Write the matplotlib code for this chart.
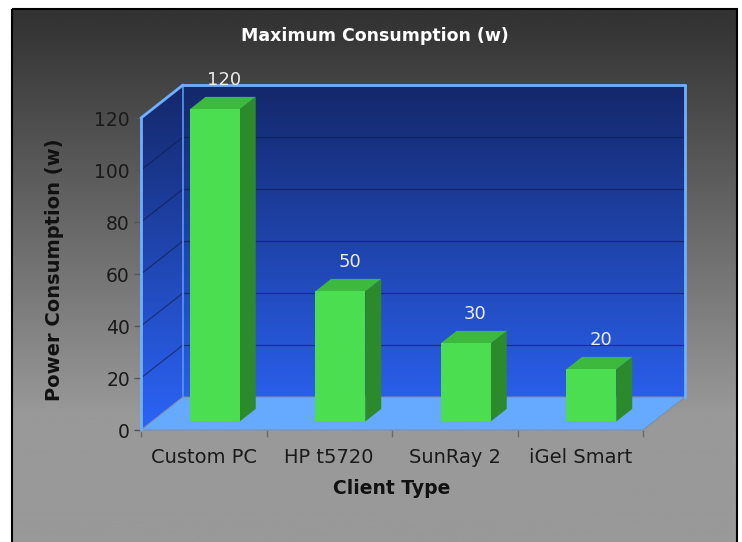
import numpy as np
import matplotlib
matplotlib.use('Agg')
import matplotlib.pyplot as plt
from matplotlib.patches import Polygon, Rectangle

# data
clients = ['Custom PC', 'HP t5720', 'SunRay 2', 'iGel Smart']
max_watts = [120, 50, 30, 20]
y_ticks = [0, 20, 40, 60, 80, 100, 120]

W, H = 742, 542
fig = plt.figure(figsize=(W / 100, H / 100), dpi=100)
fig.patch.set_facecolor('white')

# gray gradient panel behind everything
bg = fig.add_axes([0, 0, 1, 1], zorder=-10)
bg.set_xlim(0, W)
bg.set_ylim(H, 0)
bg.axis('off')
rows = np.arange(H)
g = np.clip(51 + 102 * (rows - 10) / 400, 51, 153) / 255
grad = np.dstack([g, g, g]).reshape(H, 1, 3)
bg.imshow(grad, extent=(12, 737, H + 3, 9), aspect='auto', zorder=0)
bg.add_patch(Rectangle((12, 9), 725, H, fill=False, ec='black', lw=1.5, zorder=1))

# plot axes = front plane of the 3d box
ax = fig.add_axes([141 / W, 1 - 430 / H, 502 / W, 312 / H])
ax.patch.set_alpha(0)
for s in ax.spines.values():
    s.set_visible(False)

# depth vector of the box in data units
wx = 42 / (502 / 4)
wy = 33 / (312 / 120)


def pt(x, y, d):
    return (x + d * wx, y + d * wy)


def poly(pts, **kw):
    p = Polygon(pts, closed=True, clip_on=False, **kw)
    ax.add_patch(p)
    return p


x_lo, x_hi = -0.5, len(clients) - 0.5
y_top = y_ticks[-1]

back = poly([pt(x_lo, 0, 1), pt(x_hi, 0, 1), pt(x_hi, y_top, 1), pt(x_lo, y_top, 1)],
            fc='none', ec='none', zorder=1)
side = poly([pt(x_lo, 0, 0), pt(x_lo, 0, 1), pt(x_lo, y_top, 1), pt(x_lo, y_top, 0)],
            fc='none', ec='none', zorder=1)

# blue wall gradient (bright at floor, navy at top)
t = np.linspace(0, 1, 256).reshape(-1, 1)
c_top = np.array([0x14, 0x28, 0x6a]) / 255
c_bot = np.array([0x2c, 0x64, 0xf8]) / 255
wall = (c_bot * (1 - t) + c_top * t).reshape(256, 1, 3)
for clip in (back, side):
    im = ax.imshow(wall, extent=(x_lo, x_hi + wx, 0, y_top + wy), origin='lower',
                   aspect='auto', zorder=1)
    im.set_clip_box(fig.bbox)
    im.set_clip_path(clip)

# grid lines on back and side walls
for v in y_ticks[1:-1]:
    a, b = pt(x_lo, v, 1), pt(x_hi, v, 1)
    ax.plot([a[0], b[0]], [a[1], b[1]], color='#0d1c50', lw=0.9, alpha=0.6, zorder=2, clip_on=False)
    a, b = pt(x_lo, v, 0), pt(x_lo, v, 1)
    ax.plot([a[0], b[0]], [a[1], b[1]], color='#0d1c50', lw=0.9, alpha=0.6, zorder=2, clip_on=False)

# floor
poly([pt(x_lo, 0, 0), pt(x_hi, 0, 0), pt(x_hi, 0, 1), pt(x_lo, 0, 1)],
     fc='#66aaff', ec='#7d8fa8', lw=0.8, zorder=3)

# light blue box edges
edge = dict(color='#6fb0ff', lw=2, zorder=4, clip_on=False, solid_capstyle='round')
for p0, p1 in [((x_lo, 0, 0), (x_lo, y_top, 0)),
               ((x_lo, y_top, 0), (x_lo, y_top, 1)),
               ((x_lo, y_top, 1), (x_hi, y_top, 1)),
               ((x_hi, y_top, 1), (x_hi, 0, 1))]:
    a, b = pt(*p0), pt(*p1)
    ax.plot([a[0], b[0]], [a[1], b[1]], **edge)
a, b = pt(x_lo, 0, 1), pt(x_lo, y_top, 1)
ax.plot([a[0], b[0]], [a[1], b[1]], color='#5a96f0', lw=1.2, zorder=2, clip_on=False)

# 3d bars
hw = 0.2
d0, bd = 0.26, 0.38
for i, v in enumerate(max_watts):
    x0, x1 = i - hw, i + hw
    poly([pt(x1, 0, d0), pt(x1, 0, d0 + bd), pt(x1, v, d0 + bd), pt(x1, v, d0)],
         fc='#2c8a2c', ec='none', zorder=5)
    poly([pt(x0, v, d0), pt(x1, v, d0), pt(x1, v, d0 + bd), pt(x0, v, d0 + bd)],
         fc='#3dba3d', ec='none', zorder=5)
    poly([pt(x0, 0, d0), pt(x1, 0, d0), pt(x1, v, d0), pt(x0, v, d0)],
         fc='#4ade50', ec='none', zorder=6)
    ax.annotate(str(v), pt(i, v, d0 + bd / 2), xytext=(1, 13), textcoords='offset points',
                ha='center', va='baseline', fontsize=13, color='#ececec', zorder=7,
                annotation_clip=False)

ax.set_xlim(x_lo, x_hi)
ax.set_ylim(0, y_top)
ax.set_xticks(range(len(clients)))
ax.set_xticklabels(clients)
ax.set_xticks(np.arange(x_lo, x_hi + 0.01, 1), minor=True)
ax.tick_params(axis='x', which='major', length=0, pad=13, labelsize=14, labelcolor='#1a1a1a')
ax.tick_params(axis='x', which='minor', length=5, color='#6a6a6a', width=1)
ax.set_yticks(y_ticks)
ax.tick_params(axis='y', length=5, color='#555555', width=1, pad=3, labelsize=13.5,
               labelcolor='#1a1a1a')

fig.text(375 / W, 1 - 36 / H, 'Maximum Consumption (w)', ha='center', va='center',
         fontsize=12.5, fontweight='bold', color='white')
fig.text(392 / W, 1 - 489 / H, 'Client Type', ha='center', va='center',
         fontsize=13.5, fontweight='bold', color='#111111')
fig.text(55 / W, 1 - 270 / H, 'Power Consumption (w)', ha='center', va='center',
         rotation=90, fontsize=14, fontweight='bold', color='#111111')

fig.savefig('out.png', dpi=100)
